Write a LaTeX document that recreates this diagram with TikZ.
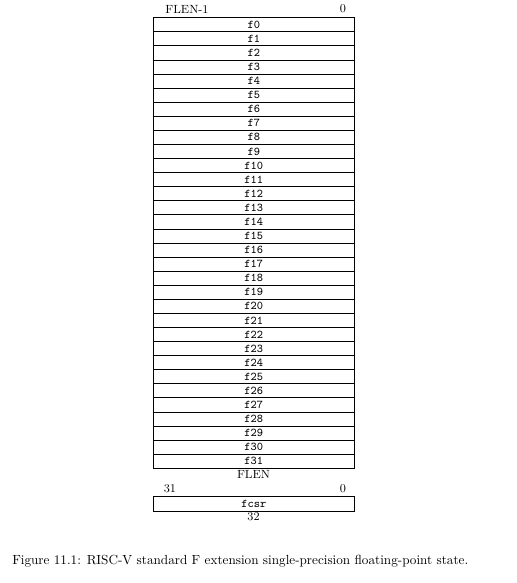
\documentclass[tikz,border=0pt]{standalone}
\begin{document}
\begin{tikzpicture}[x=0.759pt,y=-0.759pt,
  reg/.style={draw,line width=0.5pt,minimum width=201*0.759pt,minimum height=14.08*0.759pt,inner sep=0pt,anchor=north west,font=\small\ttfamily},
  lbl/.style={inner sep=0pt,font=\small}]
\useasboundingbox (0,0) rectangle (517,583);
\node[lbl] (hi) at (187,9) {FLEN-1};
\node[lbl] (lo) at (343,9) {0};
\foreach \i in {0,...,31}{
  \node[reg] (f\i) at (153,17.3+14.08*\i) {f\i};
}
\node[lbl] (flen) at (253.5,474) {FLEN};
\node[lbl] (chi) at (170,489) {31};
\node[lbl] (clo) at (343,489) {0};
\node[reg,minimum height=14.5*0.759pt] (fcsr) at (153,496) {fcsr};
\node[lbl] (w) at (253.5,517) {32};
\node[inner sep=0pt,anchor=west] (cap) at (12,561) {Figure 11.1: RISC-V standard F extension single-precision floating-point state.};
\end{tikzpicture}
\end{document}
